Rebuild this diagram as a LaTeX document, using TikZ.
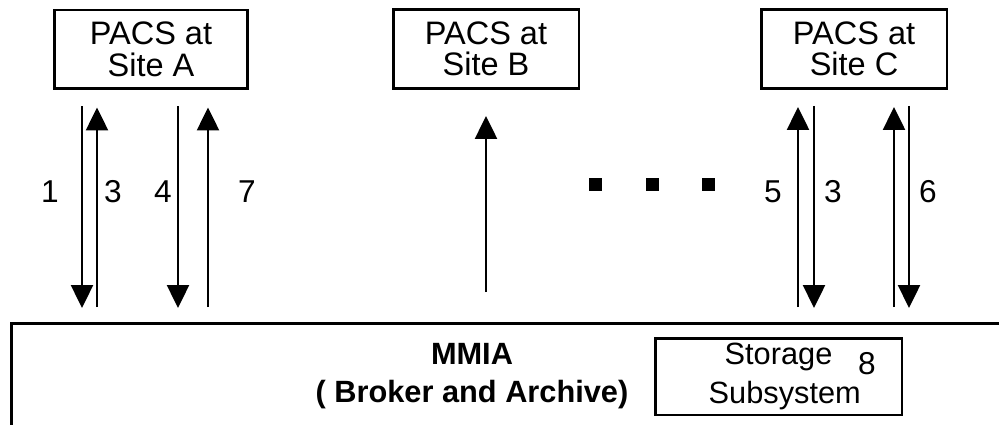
\documentclass[tikz,border=0pt]{standalone}
\usepackage{fontspec}
\setmainfont{Liberation Sans}
\usetikzlibrary{arrows.meta}

\tikzset{
    site/.style={draw, line width=1.7pt, minimum height=1.58cm, inner sep=0pt,
        align=center, font=\fontsize{18.5pt}{18pt}\selectfont},
    num/.style={inner sep=0pt, font=\fontsize{18pt}{18pt}\selectfont},
    flow/.style={line width=1.4pt, -{Triangle[width=0.44cm,length=0.46cm]}},
    down/.style={flow, shorten <=0.32cm, shorten >=0.28cm},
    up/.style={flow, shorten <=0.3cm, shorten >=0.34cm},
    dot/.style={fill, minimum size=0.26cm, inner sep=0pt}
}

\begin{document}
\begin{tikzpicture}[x=0.02cm, y=-0.02cm]
    \useasboundingbox (0,0) rectangle (999,425);
    \clip (0,0) rectangle (999,425);

    \node[site, minimum width=3.88cm] (siteA) at (151,49.5) {PACS at\\Site A};
    \node[site, minimum width=3.72cm] (siteB) at (486,49) {PACS at\\Site B};
    \node[site, minimum width=3.72cm] (siteC) at (854,49) {PACS at\\Site C};

    \node[draw, line width=1.9pt, anchor=north west, minimum width=22cm,
        minimum height=4cm] (archive) at (10,322) {};
    \node[align=center, inner sep=0pt,
        font=\bfseries\fontsize{17.5pt}{21.6pt}\selectfont] (mmia) at (472,376)
        {MMIA\\( Broker and Archive)};
    \node[draw, line width=1.7pt, minimum width=4.94cm, minimum height=1.54cm,
        inner sep=0pt, align=center, font=\fontsize{17.5pt}{22pt}\selectfont]
        (storage) at (778.5,376.5) {Storage\\\hspace*{0.25cm}Subsystem};
    \node[num] (eight) at (867,364) {8};

    \draw[down] (siteA.south -| 82,0) -- (archive.north -| 82,0);
    \draw[up] (archive.north -| 97,0) -- (siteA.south -| 97,0);
    \draw[down] (siteA.south -| 178,0) -- (archive.north -| 178,0);
    \draw[up] (archive.north -| 208,0) -- (siteA.south -| 208,0);

    \draw[flow, shorten <=0.6cm, shorten >=0.52cm] (archive.north -| 486,0) -- (siteB.south -| 486,0);

    \draw[up] (archive.north -| 798,0) -- (siteC.south -| 798,0);
    \draw[down] (siteC.south -| 814,0) -- (archive.north -| 814,0);
    \draw[up] (archive.north -| 894,0) -- (siteC.south -| 894,0);
    \draw[down] (siteC.south -| 909,0) -- (archive.north -| 909,0);

    \node[num] (l1) at (50,192) {1};
    \node[num] (l3a) at (113,192) {3};
    \node[num] (l4) at (163,192) {4};
    \node[num] (l7) at (247,192) {7};
    \node[num] (l5) at (773,192) {5};
    \node[num] (l3c) at (833,192) {3};
    \node[num] (l6) at (928,192) {6};

    \foreach \x [count=\i] in {595,652,708}
        \node[dot] (dot\i) at (\x,185) {};
\end{tikzpicture}
\end{document}
